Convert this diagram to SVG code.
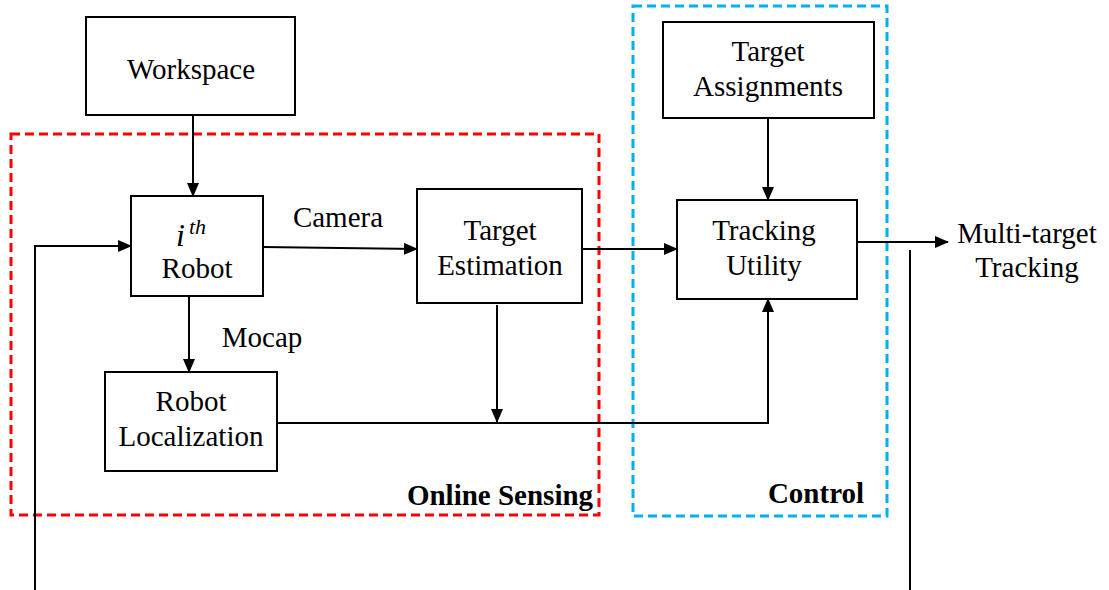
<svg xmlns="http://www.w3.org/2000/svg" width="1109" height="590" viewBox="0 0 1109 590">
<defs>
<marker id="ah" markerWidth="14" markerHeight="12" refX="13" refY="6" orient="auto" markerUnits="userSpaceOnUse">
<path d="M0,0 L14,6 L0,12 Z" fill="#000"/>
</marker>
<style>
.box{fill:#fff;stroke:#000;stroke-width:2}
.t{font-family:"Liberation Serif","Times New Roman",serif;font-size:29px;fill:#000;text-anchor:middle}
.b{font-weight:bold}
.c{fill:none;stroke:#000;stroke-width:2}
.ca{fill:none;stroke:#000;stroke-width:2;marker-end:url(#ah)}
</style>
</defs>
<rect width="1109" height="590" fill="#fff"/>
<g id="groups">
<rect x="11" y="134" width="588" height="381" fill="none" stroke="#ff0000" stroke-width="3" stroke-dasharray="9,5"/>
<rect x="633" y="6" width="254" height="510" fill="none" stroke="#00b0f0" stroke-width="3" stroke-dasharray="9,5"/>
<text class="t b" x="500" y="505">Online Sensing</text>
<text class="t b" x="816" y="503">Control</text>
</g>
<g id="connectors">
<path class="ca" d="M193,115 V196"/>
<path class="ca" d="M263,247 L417,249"/>
<path class="ca" d="M582,249 H677"/>
<path class="ca" d="M768,118 V200"/>
<path class="ca" d="M189,296 V372"/>
<path class="ca" d="M497,305 V422"/>
<path class="ca" d="M277,423 H768 V299"/>
<path class="ca" d="M857,242 H948"/>
<path class="c" d="M910,250 V590"/>
<path class="ca" d="M35,590 V246 H131"/>
<text class="t" x="338" y="227">Camera</text>
<text class="t" x="262" y="347">Mocap</text>
</g>
<g id="workspace">
<rect class="box" x="86" y="17" width="209" height="98"/>
<text class="t" x="191" y="79">Workspace</text>
</g>
<g id="robot">
<rect class="box" x="131" y="196" width="132" height="100"/>
<text class="t" x="191" y="246"><tspan font-style="italic" font-size="32">i</tspan><tspan font-style="italic" font-size="22" dx="4" dy="-12">th</tspan></text>
<text class="t" x="197" y="278">Robot</text>
</g>
<g id="target-estimation">
<rect class="box" x="417" y="189" width="165" height="114"/>
<text class="t" x="500" y="240">Target</text>
<text class="t" x="500" y="275">Estimation</text>
</g>
<g id="target-assignments">
<rect class="box" x="663" y="22" width="211" height="96"/>
<text class="t" x="768" y="61">Target</text>
<text class="t" x="768" y="96">Assignments</text>
</g>
<g id="tracking-utility">
<rect class="box" x="677" y="200" width="180" height="99"/>
<text class="t" x="764" y="240">Tracking</text>
<text class="t" x="764" y="275">Utility</text>
</g>
<g id="robot-localization">
<rect class="box" x="105" y="372" width="172" height="99"/>
<text class="t" x="191" y="411">Robot</text>
<text class="t" x="191" y="446">Localization</text>
</g>
<g id="output">
<text class="t" x="1027" y="243">Multi-target</text>
<text class="t" x="1027" y="277">Tracking</text>
</g>
</svg>
